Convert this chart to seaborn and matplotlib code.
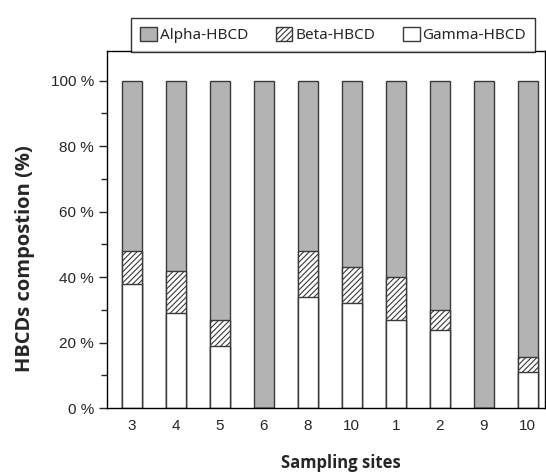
import numpy as np
import pandas as pd
import matplotlib
matplotlib.use("Agg")
import matplotlib.pyplot as plt
from matplotlib.patches import Patch
from matplotlib.ticker import MultipleLocator, FuncFormatter
import seaborn as sns

# composition of HBCD isomers per sampling site (%)
sites = ["3", "4", "5", "6", "8", "10", "1", "2", "9", "10"]
gamma = [38, 29, 19, 0, 34, 32, 27, 24, 0, 11]
beta = [10, 13, 8, 0, 14, 11, 13, 6, 0, 4.5]
alpha = [52, 58, 73, 100, 52, 57, 60, 70, 100, 84.5]

sns.set_style("white")
plt.rcParams['font.family'] = ['Liberation Sans', 'DejaVu Sans']
plt.rcParams['hatch.color'] = '#555555'
plt.rcParams['hatch.linewidth'] = 0.8

df = pd.DataFrame({
    "key": [f"s{i}" for i in range(len(sites))],
    "gamma": gamma,
    "beta": beta,
    "alpha": alpha,
})
df["gb"] = df["gamma"] + df["beta"]
df["total"] = df["gb"] + df["alpha"]
order = list(df["key"])

fig = plt.figure(figsize=(5.46, 4.74), dpi=100)
ax = fig.add_axes([0.196, 0.139, 0.802, 0.753])

edge = "#3a3a3a"
# cumulative bars drawn back to front
sns.barplot(data=df, x="key", y="total", order=order, color="#b3b3b3",
            width=0.45, edgecolor=edge, linewidth=1.0, saturation=1, ax=ax)
sns.barplot(data=df, x="key", y="gb", order=order, color="white", hatch="//////",
            width=0.45, edgecolor=edge, linewidth=1.0, saturation=1, ax=ax)
sns.barplot(data=df, x="key", y="gamma", order=order, color="white",
            width=0.45, edgecolor=edge, linewidth=1.0, saturation=1, ax=ax)

ax.set_xlim(-0.56, 9.39)
ax.set_ylim(0, 109)
ax.set_xticks(range(len(sites)))
ax.set_xticklabels(sites)
ax.yaxis.set_major_locator(MultipleLocator(20))
ax.yaxis.set_minor_locator(MultipleLocator(10))
ax.yaxis.set_major_formatter(FuncFormatter(lambda v, p: f"{v:.0f} %" if v <= 100 else ""))
ax.tick_params(axis="y", which="major", direction="out", length=6, width=1, left=True, labelsize=11)
ax.tick_params(axis="y", which="minor", direction="out", length=4, width=1, left=True)
ax.tick_params(axis="x", length=0, labelsize=11, pad=8)
for s in ax.spines.values():
    s.set_visible(True)
    s.set_color("black")
    s.set_linewidth(1.0)

ax.set_xlabel("Sampling sites", fontsize=12, fontweight="bold", family="Open Sans")
ax.set_ylabel("HBCDs compostion (%)", fontsize=14.5, fontweight="bold", family="Open Sans")
ax.xaxis.set_label_coords(0.534, -0.128)
ax.yaxis.set_label_coords(-0.165, 0.42)

handles = [
    Patch(facecolor="#b3b3b3", edgecolor=edge, label="Alpha-HBCD"),
    Patch(facecolor="white", edgecolor=edge, hatch="//////", label="Beta-HBCD"),
    Patch(facecolor="white", edgecolor=edge, label="Gamma-HBCD"),
]
leg = fig.legend(handles=handles, loc="upper center", bbox_to_anchor=(0.61, 0.979),
                 ncol=3, frameon=True, fancybox=False, edgecolor="black",
                 prop={"family": "Noto Sans", "size": 11},
                 handlelength=1.1, handleheight=1.1, handletextpad=0.2,
                 columnspacing=1.8, borderpad=0.6)
leg.get_frame().set_linewidth(1.0)

plt.savefig("out.png", dpi=100)
